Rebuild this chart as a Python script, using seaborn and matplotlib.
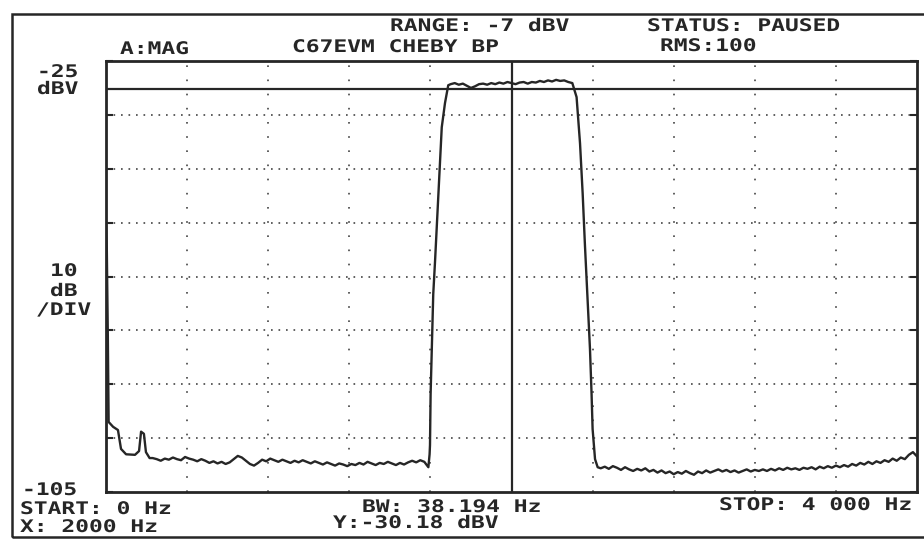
import numpy as np
import pandas as pd
import matplotlib
matplotlib.use("Agg")
import matplotlib.pyplot as plt
from matplotlib.patches import Rectangle
from matplotlib.patheffects import AbstractPathEffect
from matplotlib.transforms import Affine2D
import seaborn as sns

# ---- data (Hz, dBV) ----
start_freq = [0, 4, 9, 13, 35, 59, 74, 99, 143, 163, 173, 187, 197, 215]
start_db = [-55.6, -60.0, -76.0, -92.0, -92.9, -93.5, -97.0, -98.0, -98.1, -97.4, -93.8, -94.2, -97.6, -98.7]

floor_left_freq = np.arange(230, 1591, 20)
floor_left_db = [
    -98.7, -98.9, -99.2, -98.8, -99.0, -98.6, -98.9, -99.1, -98.5, -98.8,
    -99.0, -99.3, -98.9, -99.2, -99.6, -99.3, -99.7, -99.4, -99.8, -99.5,
    -98.9, -98.3, -98.6, -99.2, -99.8, -100.1, -99.6, -99.0, -99.3, -98.8,
    -99.1, -99.4, -99.0, -99.3, -99.6, -99.2, -99.5, -99.1, -99.4, -99.7,
    -99.3, -99.6, -99.9, -99.5, -99.8, -100.1, -99.7, -99.9, -100.2, -99.8,
    -100.0, -99.6, -99.9, -99.4, -99.7, -100.0, -99.6, -99.8, -99.4, -99.7,
    -100.0, -99.6, -99.9, -99.5, -99.2, -99.5, -99.1, -99.4, -100.4,
]

rise_freq = [1596, 1598, 1601, 1606, 1614, 1623, 1631, 1639, 1647, 1656, 1672, 1688]
rise_db = [-98.0, -96.3, -86.9, -79.5, -68.3, -62.1, -56.0, -49.6, -43.5, -37.3, -32.8, -29.5]

pass_freq = np.arange(1700, 2301, 20)
pass_db = [
    -29.3, -29.1, -29.4, -29.2, -29.6, -30.0, -29.7, -29.3, -29.2, -29.4,
    -29.1, -29.3, -29.0, -29.2, -28.9, -29.1, -29.3, -29.0, -28.9, -29.2,
    -28.9, -29.0, -28.7, -28.9, -28.6, -28.8, -28.5, -28.7, -28.6, -28.9,
    -29.1,
]

fall_freq = [2321, 2338, 2351, 2362, 2374, 2387, 2395, 2400, 2412, 2425]
fall_db = [-31.7, -40.3, -49.6, -59.0, -68.3, -78.4, -86.9, -93.3, -98.9, -100.4]

floor_right_freq = np.arange(2440, 4001, 20)
floor_right_db = [
    -100.6, -100.3, -100.7, -100.2, -100.5, -100.9, -100.4, -100.8, -101.1, -100.7,
    -101.0, -100.6, -101.2, -100.9, -101.4, -101.0, -101.5, -101.2, -101.7, -101.3,
    -101.6, -101.1, -101.5, -101.8, -101.2, -101.5, -101.0, -101.4, -101.1, -100.8,
    -101.2, -100.9, -101.3, -101.0, -101.4, -101.1, -100.8, -101.2, -100.9, -101.1,
    -100.8, -101.1, -100.7, -101.0, -100.6, -100.9, -100.5, -100.8, -100.6, -100.9,
    -100.5, -100.7, -100.4, -100.8, -100.3, -100.6, -100.2, -100.5, -100.1, -100.4,
    -100.0, -100.3, -99.8, -100.1, -99.6, -99.9, -99.4, -99.8, -99.3, -99.6,
    -99.1, -99.4, -98.8, -99.2, -98.6, -98.9, -98.1, -97.6, -98.4,
]

marker_x = 2000
marker_y = -30.18

df = pd.DataFrame({
    "freq": np.concatenate([start_freq, floor_left_freq, rise_freq, pass_freq,
                            fall_freq, floor_right_freq]),
    "db": np.concatenate([start_db, floor_left_db, rise_db, pass_db,
                          fall_db, floor_right_db]),
})


class Widen(AbstractPathEffect):
    """Stretch glyphs sideways, like the wide font of the analyzer screen."""

    def __init__(self, sx):
        super().__init__()
        self.sx = sx

    def draw_path(self, renderer, gc, tpath, affine, rgbFace=None):
        renderer.draw_path(gc, tpath, Affine2D().scale(self.sx, 1.0) + affine, rgbFace)


sns.set_style("white")
plt.rcParams["font.family"] = ["DejaVu Sans Mono", "DejaVu Sans"]

ink = "#262626"
W, H = 924, 540
fig = plt.figure(figsize=(W / 100, H / 100), dpi=100)
fig.patch.set_facecolor("white")

# plot box in pixel coords: x 106..917, y 61..492
ax = fig.add_axes([106 / W, 1 - 492 / H, 811 / W, 431 / H])
ax.set_xlim(0, 4000)
ax.set_ylim(-105, -25)

# dotted graticule
for yv in range(-95, -25, 10):
    ax.axhline(yv, color="#444444", lw=1.2, ls=(0, (1, 3.5)), zorder=1)
for xv in range(400, 4000, 400):
    if xv != marker_x:
        ax.axvline(xv, color="#444444", lw=1.2, ls=(0, (1, 7.5)), zorder=1)

# marker cross
ax.axhline(marker_y, color=ink, lw=1.6, zorder=2)
ax.axvline(marker_x, color=ink, lw=1.6, zorder=2)

sns.lineplot(data=df, x="freq", y="db", sort=False, estimator=None,
             color=ink, lw=1.7, ax=ax, zorder=3)

ax.set_xticks(range(0, 4001, 400))
ax.set_yticks(range(-105, -24, 10))
ax.tick_params(axis="both", which="both", direction="in", length=5, width=1.5,
               color=ink, left=True, right=True, bottom=False, top=False,
               labelleft=False, labelbottom=False)
ax.set_xlabel("")
ax.set_ylabel("")
for sp in ax.spines.values():
    sp.set_color(ink)
    sp.set_linewidth(2.0)

# outer screen frame
fig.add_artist(Rectangle((12 / W, 1 - 537 / H), 930 / W, (537 - 14) / H,
                         transform=fig.transFigure, fill=False,
                         ec=ink, lw=1.8))

wide = [Widen(1.32)]


def label(x, y, s):
    fig.text(x / W, 1 - y / H, s, ha="left", va="center", fontsize=12.5,
             fontweight="bold", color=ink, path_effects=wide)


label(390, 26, "RANGE: -7 dBV")
label(647, 26, "STATUS: PAUSED")
label(120, 49, "A:MAG")
label(292, 47, "C67EVM CHEBY BP")
label(660, 46, "RMS:100")
label(37, 72, "-25")
label(37, 89, "dBV")
label(50, 271, "10")
label(50, 291, "dB")
label(36, 310, "/DIV")
label(22, 490, "-105")
label(20, 509, "START: 0 Hz")
label(20, 527, "X: 2000 Hz")
label(362, 507, "BW: 38.194 Hz")
label(333, 523, "Y:-30.18 dBV")
label(719, 505, "STOP: 4 000 Hz")

fig.savefig("out.png", dpi=100)
